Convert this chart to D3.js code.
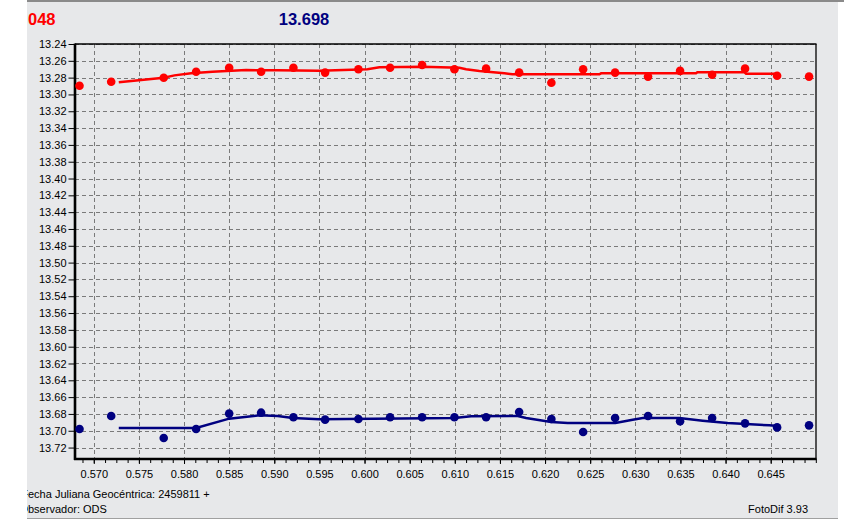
<!DOCTYPE html>
<html><head><meta charset="utf-8">
<script src="https://cdn.jsdelivr.net/npm/d3@7"></script>
<style>html,body{margin:0;padding:0;background:#fff;}svg{display:block;}</style>
</head><body>
<svg id="c" width="844" height="522"></svg>
<script>
// ---- data ----
const jd = [0.56842,0.57193,0.57775,0.58134,0.58500,0.58854,0.59212,0.59563,0.59932,0.60283,0.60638,0.60996,
            0.61347,0.61713,0.62070,0.62422,0.62776,0.63141,0.63496,0.63851,0.64216,0.64571,0.64925];
const magRed = [13.2896,13.2849,13.2801,13.2730,13.2682,13.2730,13.2682,13.2740,13.2700,13.2682,13.2650,13.2700,
                13.2693,13.2740,13.2860,13.2700,13.2740,13.2788,13.2720,13.2765,13.2693,13.2778,13.2788];
const magBlue = [13.6980,13.6825,13.7087,13.6980,13.6796,13.6785,13.6840,13.6868,13.6860,13.6840,13.6840,13.6840,
                 13.6840,13.6777,13.6860,13.7015,13.6849,13.6825,13.6888,13.6849,13.6912,13.6960,13.6936];
const smoothRedX = [0.57277,0.57775,0.57894,0.58079,0.58315,0.58688,0.59035,0.59500,0.60032,0.60165,0.60641,0.61051,
                    0.61125,0.61273,0.61550,0.61638,0.62602,0.62621,0.63673,0.63688,0.64209,0.64227,0.64571];
const smoothRedY = [13.2856,13.2801,13.2773,13.2749,13.2730,13.2710,13.2713,13.2718,13.2701,13.2677,13.2670,13.2682,
                    13.2701,13.2721,13.2749,13.2761,13.2761,13.2749,13.2749,13.2737,13.2737,13.2754,13.2754];
const smoothBlueX = [0.57277,0.58134,0.58500,0.58836,0.59038,0.59205,0.59500,0.60996,0.61181,0.61697,0.61790,0.62067,
                     0.62251,0.62779,0.62971,0.63082,0.63488,0.63746,0.64023,0.64485,0.64571];
const smoothBlueY = [13.6968,13.6968,13.6856,13.6817,13.6825,13.6849,13.6864,13.6849,13.6829,13.6825,13.6849,13.6896,
                     13.6908,13.6908,13.6868,13.6849,13.6849,13.6880,13.6908,13.6936,13.6944];
const yTicks = ["13.24","13.26","13.28","13.30","13.32","13.34","13.36","13.38","13.40","13.42","13.44","13.46","13.48",
                "13.50","13.52","13.54","13.56","13.58","13.60","13.62","13.64","13.66","13.68","13.70","13.72"];
const xTicks = ["0.570","0.575","0.580","0.585","0.590","0.595","0.600","0.605","0.610","0.615","0.620","0.625",
                "0.630","0.635","0.640","0.645"];
const xMinor = d3.range(0, 66).map(i => 0.56875 + i * 0.00125);
const headRed = "048", headBlue = "13.698";
const footDate = "Fecha Juliana Geocéntrica: 2459811 +";
const footObs = "Observador: ODS";
const footApp = "FotoDif 3.93";

// ---- layout ----
const svg = d3.select("#c");
const L = 75, R = 816, T = 44, B = 459;
const x = d3.scaleLinear().domain([0.56792, 0.65002]).range([L, R]);
const y = d3.scaleLinear().domain([13.24, 13.7336]).range([T, B]);
const font = "'Liberation Sans', Arial, sans-serif";

// panel
svg.append("rect").attr("x", 27).attr("y", 0).attr("width", 811).attr("height", 519).attr("fill", "#e7e8ea");
svg.append("line").attr("x1", 27).attr("x2", 844).attr("y1", 1).attr("y2", 1).attr("stroke", "#8a8a8a").attr("stroke-width", 2);
svg.append("line").attr("x1", 27).attr("x2", 838).attr("y1", 518.5).attr("y2", 518.5).attr("stroke", "#a0a0a0").attr("stroke-width", 1);
svg.append("defs").append("clipPath").attr("id", "panelClip")
  .append("rect").attr("x", 27).attr("y", 0).attr("width", 811).attr("height", 522);

// gridlines
const g = svg.append("g");
g.selectAll(".hg").data(yTicks).join("line")
  .attr("x1", L).attr("x2", R)
  .attr("y1", d => Math.round(y(+d)) + 0.5).attr("y2", d => Math.round(y(+d)) + 0.5)
  .attr("stroke", "#7a7a7a").attr("stroke-dasharray", "4,3");
g.selectAll(".vg").data(xTicks).join("line")
  .attr("x1", d => Math.round(x(+d)) + 0.5).attr("x2", d => Math.round(x(+d)) + 0.5)
  .attr("y1", T).attr("y2", B)
  .attr("stroke", "#7a7a7a").attr("stroke-dasharray", "4,3");

// axes
const yAxis = d3.axisLeft(y).tickValues(yTicks.map(Number)).tickFormat(d3.format(".2f")).tickSize(6).tickPadding(2);
const ya = svg.append("g").attr("transform", `translate(${L - 0.5},0)`).call(yAxis);
ya.select(".domain").remove();
ya.selectAll("line").attr("stroke", "#000");
ya.selectAll("text").attr("font-family", font).attr("font-size", "11px").attr("fill", "#000");

const xMinorAxis = d3.axisBottom(x).tickValues(xMinor).tickFormat("").tickSize(4);
const xm = svg.append("g").attr("transform", `translate(0,${B})`).call(xMinorAxis);
xm.select(".domain").remove();
xm.selectAll("line").attr("stroke", "#000");

const xAxis = d3.axisBottom(x).tickValues(xTicks.map(Number)).tickFormat(d3.format(".3f")).tickSize(5).tickPadding(6);
const xa = svg.append("g").attr("transform", `translate(0,${B})`).call(xAxis);
xa.select(".domain").remove();
xa.selectAll("line").attr("stroke", "#000");
xa.selectAll("text").attr("font-family", font).attr("font-size", "11px").attr("fill", "#000");

// frame
svg.append("line").attr("x1", L).attr("x2", R + 0.5).attr("y1", T).attr("y2", T).attr("stroke", "#000").attr("stroke-width", 1.3);
svg.append("line").attr("x1", R).attr("x2", R).attr("y1", T).attr("y2", B).attr("stroke", "#000").attr("stroke-width", 1.3);
svg.append("line").attr("x1", L).attr("x2", L).attr("y1", T - 0.5).attr("y2", B + 1).attr("stroke", "#000").attr("stroke-width", 2.6);
svg.append("line").attr("x1", L - 1).attr("x2", R + 0.5).attr("y1", B).attr("y2", B).attr("stroke", "#000").attr("stroke-width", 2.4);

// series
const line = d3.line().x(d => x(d[0])).y(d => y(d[1]));
function series(xs, ys, sx, sy, color) {
  const pts = xs.map((v, i) => [v, ys[i]]);
  const sm = sx.map((v, i) => [v, sy[i]]);
  svg.append("path").datum(sm).attr("d", line).attr("fill", "none").attr("stroke", color).attr("stroke-width", 2.5);
  svg.append("g").selectAll("circle").data(pts).join("circle")
    .attr("cx", d => x(d[0])).attr("cy", d => y(d[1])).attr("r", 4.3).attr("fill", color);
}
series(jd, magRed, smoothRedX, smoothRedY, "#ff0000");
series(jd, magBlue, smoothBlueX, smoothBlueY, "#000080");

// header
svg.append("text").attr("x", 28).attr("y", 25).attr("font-family", font).attr("font-weight", "bold")
  .attr("font-size", "16.5px").attr("fill", "#ff0000").text(headRed);
svg.append("text").attr("x", 304).attr("y", 25).attr("text-anchor", "middle").attr("font-family", font).attr("font-weight", "bold")
  .attr("font-size", "16.5px").attr("fill", "#000080").text(headBlue);

// footer (left part clipped by the panel edge)
const foot = svg.append("g").attr("clip-path", "url(#panelClip)");
const ffont = "Tahoma, 'DejaVu Sans Condensed', 'Liberation Sans', sans-serif";
function clippedText(str, yy) {
  const t = foot.append("text").attr("y", yy).attr("font-family", font).attr("font-size", "11px").attr("fill", "#000").text(str);
  const w = t.node().getSubStringLength(0, 1);
  t.attr("x", 27 - w + 1);
}
clippedText(footDate, 498);
clippedText(footObs, 513);
svg.append("text").attr("x", 808).attr("y", 513).attr("text-anchor", "end").attr("font-family", font)
  .attr("font-size", "11px").attr("fill", "#000").text(footApp);
</script>
</body></html>
